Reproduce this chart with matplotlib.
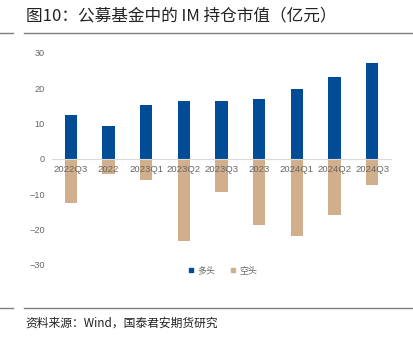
import matplotlib
matplotlib.use("Agg")
import matplotlib.pyplot as plt
from matplotlib.lines import Line2D

categories = ["2022Q3", "2022", "2023Q1", "2023Q2", "2023Q3", "2023", "2024Q1", "2024Q2", "2024Q3"]
long_vals = [12.5, 9.4, 15.3, 16.5, 16.3, 17.0, 19.8, 23.3, 27.2]
short_vals = [-12.4, -4.3, -6.0, -23.1, -9.4, -18.6, -21.9, -15.9, -7.4]
yticks = [-30, -20, -10, 0, 10, 20, 30]

cjk = ["Noto Sans CJK SC", "DejaVu Sans"]
W, H = 413, 339
fig = plt.figure(figsize=(W / 100, H / 100), dpi=100)

ax = fig.add_axes([52 / W, 1 - 265 / H, 339 / W, (265 - 53) / H])
ax.spines["bottom"].set_position(("data", 0))
x = list(range(len(categories)))
blue = "#004C97"
tan = "#D2AF8C"
ax.bar(x, long_vals, width=0.33, color=blue, zorder=1)
ax.bar(x, short_vals, width=0.33, color=tan, zorder=1)
ax.set_xlim(-0.5, len(categories) - 0.5)
ax.set_ylim(-30, 30)
ax.set_yticks(yticks)
ax.set_yticklabels([("\u2212" + str(-v)) if v < 0 else str(v) for v in yticks],
                   fontsize=6.6, color="#666666", family="Liberation Sans")
ax.set_xticks(x)
ax.set_xticklabels(categories, fontsize=6.8, color="#666666", family="Liberation Sans")
for s in ["top", "right", "left"]:
    ax.spines[s].set_visible(False)
ax.spines["bottom"].set_color("#D9D9D9")
ax.spines["bottom"].set_linewidth(0.8)
ax.tick_params(axis="both", length=0)
ax.tick_params(axis="x", pad=4.5)
ax.tick_params(axis="y", pad=5)
ax.patch.set_alpha(0)

handles = [Line2D([], [], marker="s", linestyle="none", markersize=3.5, color=blue),
           Line2D([], [], marker="s", linestyle="none", markersize=3.5, color=tan)]
fig.legend(handles, ["多头", "空头"], loc="center", bbox_to_anchor=(222 / W, 1 - 271 / H),
           ncol=2, frameon=False, prop={"family": cjk, "size": 6.5}, labelcolor="#666666",
           handletextpad=0.2, columnspacing=1.5, handlelength=1.0)

fig.text(26 / W, 1 - 16 / H, "图10：公募基金中的 IM 持仓市值（亿元）", fontsize=12,
         family=cjk, color="#222222", va="center", ha="left")
for yy in [33, 308]:
    fig.add_artist(Line2D([0, 13 / W], [1 - yy / H] * 2, color="#7F7F7F", lw=1.0))
    fig.add_artist(Line2D([24 / W, 1], [1 - yy / H] * 2, color="#7F7F7F", lw=1.0))
fig.text(25 / W, 1 - 323 / H, "资料来源：Wind，国泰君安期货研究", fontsize=8.5,
         family=cjk, color="#222222", va="center", ha="left")

fig.savefig("out.png", dpi=100)
